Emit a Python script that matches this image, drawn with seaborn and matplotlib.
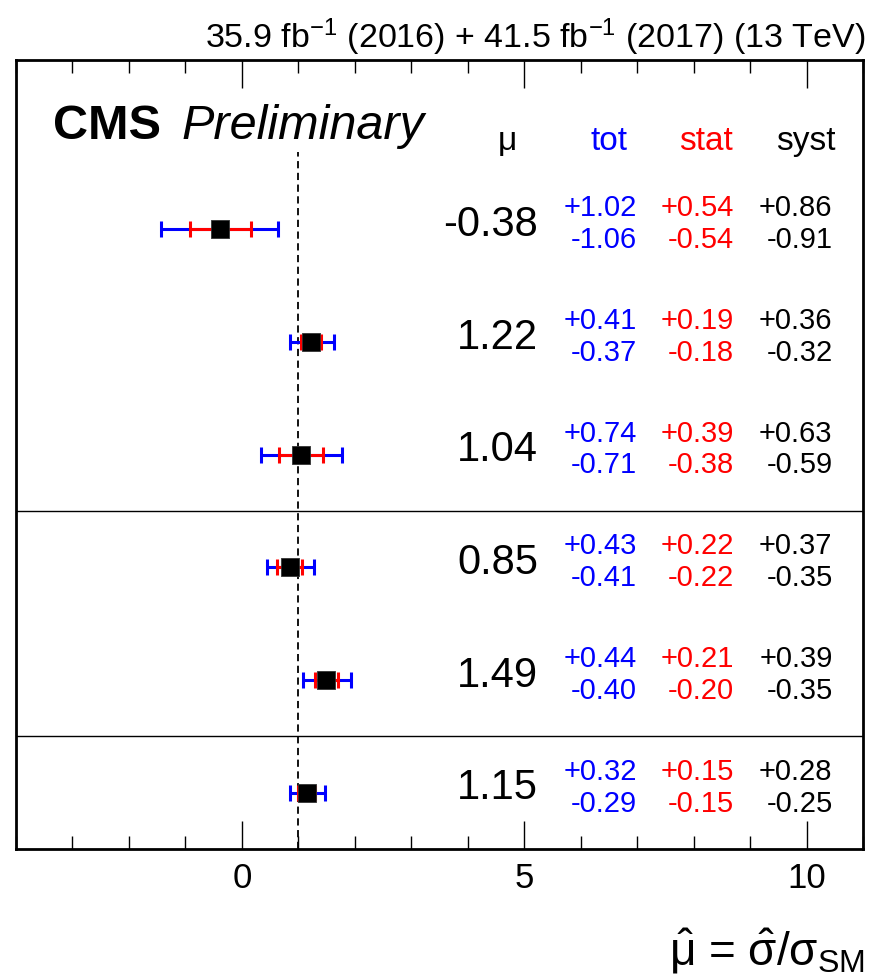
import numpy as np
import pandas as pd
import matplotlib
matplotlib.use("Agg")
import matplotlib.pyplot as plt
from matplotlib import font_manager
from matplotlib.ticker import MultipleLocator
import seaborn as sns

# ---------------- data ----------------
mu_val = [-0.38, 1.22, 1.04, 0.85, 1.49, 1.15]
tot_up = [1.02, 0.41, 0.74, 0.43, 0.44, 0.32]
tot_dn = [1.06, 0.37, 0.71, 0.41, 0.40, 0.29]
stat_up = [0.54, 0.19, 0.39, 0.22, 0.21, 0.15]
stat_dn = [0.54, 0.18, 0.38, 0.22, 0.20, 0.15]
syst_up = [0.86, 0.36, 0.63, 0.37, 0.39, 0.28]
syst_dn = [0.91, 0.32, 0.59, 0.35, 0.35, 0.25]
separators = [3, 1]
header_labels = ["\u03bc", "tot", "stat", "syst"]
lumi_text = r"35.9 fb$^{-1}$ (2016) + 41.5 fb$^{-1}$ (2017) (13 TeV)"
xlabel_text = r"$\hat{\mathrm{\mu}}$ = $\hat{\mathrm{\sigma}}/\mathrm{\sigma}_{\mathrm{SM}}$"

# ---------------- style ----------------
sns.set_style("ticks")
names = {f.name for f in font_manager.fontManager.ttflist}
base = "Liberation Sans" if "Liberation Sans" in names else "DejaVu Sans"
plt.rcParams["font.family"] = [base, "DejaVu Sans"]
plt.rcParams["mathtext.fontset"] = "custom"
plt.rcParams["mathtext.rm"] = base
plt.rcParams["mathtext.it"] = base + ":italic"
plt.rcParams["mathtext.bf"] = base + ":bold"
for k in ["text.color", "axes.labelcolor", "xtick.color", "ytick.color", "axes.edgecolor"]:
    plt.rcParams[k] = "black"

n = len(mu_val)
ypos = np.array([n - i - 0.5 for i in range(n)])
df = pd.DataFrame({"mu": mu_val, "y": ypos})

fig = plt.figure(figsize=(8.73, 9.76), dpi=100)
W, H = 873, 976
ax = fig.add_axes([16 / W, 1 - 849 / H, (863 - 16) / W, (849 - 60) / H])
ax.set_xlim(-4, 11)
ax.set_ylim(0, 7)

# reference line and separators
ax.plot([1, 1], [0, 6.18], color="black", lw=1.3, dashes=(4, 2.5), zorder=1)
for s in separators:
    ax.axhline(s, color="black", lw=1.0, zorder=1)

# error bars
ax.errorbar(df["mu"], df["y"], xerr=[tot_dn, tot_up], fmt="none",
            ecolor="#0000ff", elinewidth=2.2, capsize=6.0, capthick=2.2, zorder=2)
ax.errorbar(df["mu"], df["y"], xerr=[stat_dn, stat_up], fmt="none",
            ecolor="#ff0000", elinewidth=2.2, capsize=6.0, capthick=2.2, zorder=3)
sns.scatterplot(data=df, x="mu", y="y", marker="s", s=175, color="black",
                edgecolor="#333333", linewidth=0.6, ax=ax, zorder=5, legend=False)

# numbers
for i in range(n):
    y = ypos[i]
    ax.text(5.25, y - 0.06, f"{mu_val[i]:.2f}", ha="right", va="baseline",
            fontsize=30, color="black")
    for xr, up, dn, col in [(7.0, tot_up, tot_dn, "#0000ff"),
                            (8.72, stat_up, stat_dn, "#ff0000"),
                            (10.46, syst_up, syst_dn, "black")]:
        ax.text(xr, y + 0.115, f"+{up[i]:.2f}", ha="right", va="baseline",
                fontsize=21, color=col)
        ax.text(xr, y - 0.168, f"-{dn[i]:.2f}", ha="right", va="baseline",
                fontsize=21, color=col)

# header
for xc, lab, col in zip([4.71, 6.51, 8.22, 9.99], header_labels,
                        ["black", "#0000ff", "#ff0000", "black"]):
    ax.text(xc, 6.2, lab, ha="center", va="baseline", fontsize=24, color=col)

ax.text(-3.35, 6.3, "CMS", fontsize=35, fontweight="bold", ha="left", va="baseline")
ax.text(-1.07, 6.3, "Preliminary", fontsize=35, fontstyle="italic", ha="left", va="baseline")

# axes styling
ax.set_xlabel("")
ax.set_ylabel("")
ax.set_yticks([])
ax.xaxis.set_major_locator(MultipleLocator(5))
ax.xaxis.set_minor_locator(MultipleLocator(1))
ax.tick_params(axis="x", which="major", direction="in", length=20, width=1.0,
               top=True, bottom=True, labelsize=25, pad=9)
ax.tick_params(axis="x", which="minor", direction="in", length=9.5, width=1.0,
               top=True, bottom=True)
for sp in ax.spines.values():
    sp.set_linewidth(2.0)
    sp.set_visible(True)

fig.text(865 / W, 1 - 48 / H, lumi_text, ha="right", va="baseline", fontsize=24.5)
fig.text(865 / W, 1 - 965 / H, xlabel_text, ha="right", va="baseline", fontsize=33)

fig.savefig("out.png", dpi=100)
